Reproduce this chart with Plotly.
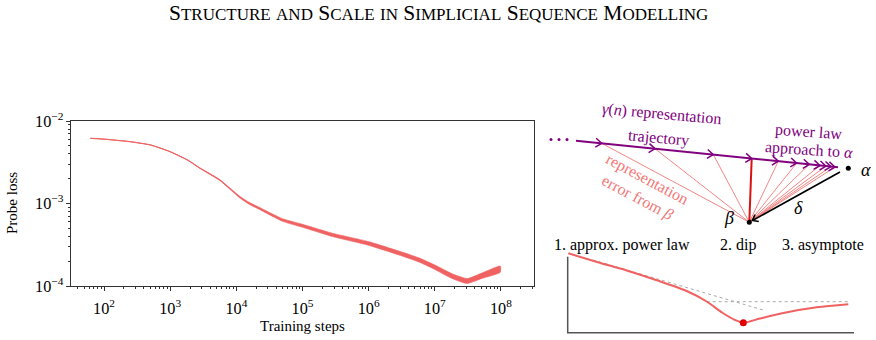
import numpy as np
import plotly.graph_objects as go

# ---------------- left panel data ----------------
STEPS = [62, 100, 160, 245, 500, 980, 1800, 2800, 5600, 8500, 11200, 15800, 22400,
         50000, 100000, 282000, 955000, 2880000, 5750000, 9550000, 18200000,
         30900000, 51300000, 97700000]
LOSS = [6.17e-3, 6.03e-3, 5.82e-3, 5.62e-3, 5.13e-3, 4.27e-3, 3.39e-3, 2.69e-3, 1.93e-3,
        1.45e-3, 1.20e-3, 1.00e-3, 8.7e-4, 6.3e-4, 5.37e-4, 4.17e-4, 3.31e-4, 2.51e-4,
        2.07e-4, 1.72e-4, 1.32e-4, 1.15e-4, 1.33e-4, 1.60e-4]
# half-width of the noisy band, in decades
NOISE_DEC = [0.002, 0.002, 0.002, 0.002, 0.002, 0.002, 0.003, 0.004, 0.006, 0.008, 0.010,
             0.012, 0.013, 0.016, 0.018, 0.020, 0.022, 0.024, 0.025, 0.027, 0.029, 0.030,
             0.033, 0.038]

TITLE = "STRUCTURE and SCALE in SIMPLICIAL SEQUENCE MODELLING"

# ---------------- schematic data (diagram coordinates) ----------------
DOTS_X = [551, 559, 567]
DOTS_Y = [139.5, 139.5, 139.5]
TRAJ_LINE_X = [576, 838]
TRAJ_LINE_Y = [140.7, 167.3]
TRAJ_X = [601.7, 655, 713.3, 751.7, 778.3, 796.7, 809.3, 820, 826, 831, 835]
TRAJ_Y = [143.3, 148.7, 154.6, 158.5, 161.2, 163.1, 164.4, 165.5, 166.1, 166.6, 167.0]
DIP_INDEX = 3
ALPHA_XY = [848.3, 168.3]
BETA_XY = [749.3, 222.3]
DELTA_FROM = [840, 172]
DELTA_TO = [752.5, 220.5]

CURVE_X = [568.3, 597, 626.7, 656, 686.7, 706.7, 722, 735, 743.3, 760, 783.3, 816.7, 848.3]
CURVE_Y = [253.3, 262, 270.5, 280, 291, 301.5, 312.5, 320, 322.7, 318.5, 313, 307.3, 304.3]
MIN_XY = [743.3, 322.7]
TANGENT_X = [593, 763]
TANGENT_Y = [260, 310]
ASYM_X = [706.7, 848.3]
ASYM_Y = [301.7, 301.7]
FRAME_X = [567.7, 567.7, 854]
FRAME_Y = [256.7, 332.7, 332.7]

W, H = 876, 340
FONT = "Liberation Serif"
RED = "#f06262"
PURPLE = "#800080"
SALMON = "#f27878"

fig = go.Figure()

# ---- left panel ----
steps = np.array(STEPS, float)
loss = np.array(LOSS)
nd = np.array(NOISE_DEC)
upper = loss * 10 ** nd
lower = loss / 10 ** nd
fig.add_trace(go.Scatter(
    x=np.concatenate([steps, steps[::-1]]), y=np.concatenate([upper, lower[::-1]]),
    mode="lines", fill="toself", fillcolor=RED, line=dict(color=RED, width=0.6, shape="spline", smoothing=0.5),
    xaxis="x", yaxis="y", hoverinfo="skip", showlegend=False))
fig.add_trace(go.Scatter(x=steps, y=loss, mode="lines",
                         line=dict(color=RED, width=1, shape="spline", smoothing=0.5),
                         xaxis="x", yaxis="y", showlegend=False))

# ---- schematic ----
def chevrons(xs, ys, dirs, back=6.0, half=4.5):
    px, py = [], []
    for x, y, d in zip(xs, ys, dirs):
        d = np.array(d, float)
        d /= np.linalg.norm(d)
        n = np.array([-d[1], d[0]])
        tip = np.array([x, y])
        a = tip - back * d + half * n
        b = tip - back * d - half * n
        px += [a[0], tip[0], b[0], None]
        py += [a[1], tip[1], b[1], None]
    return px, py

ax2 = dict(xaxis="x2", yaxis="y2", showlegend=False, hoverinfo="skip")

traj_dir = [TRAJ_LINE_X[1] - TRAJ_LINE_X[0], TRAJ_LINE_Y[1] - TRAJ_LINE_Y[0]]

for i, (tx, ty) in enumerate(zip(TRAJ_X, TRAJ_Y)):
    if i == DIP_INDEX:
        continue
    fig.add_trace(go.Scatter(x=[BETA_XY[0], tx], y=[BETA_XY[1], ty], mode="lines",
                             line=dict(color=SALMON, width=0.9), **ax2))
fig.add_trace(go.Scatter(x=[BETA_XY[0], TRAJ_X[DIP_INDEX]], y=[BETA_XY[1], TRAJ_Y[DIP_INDEX]],
                         mode="lines", line=dict(color="#dd1111", width=2), **ax2))

fig.add_trace(go.Scatter(x=TRAJ_LINE_X, y=TRAJ_LINE_Y, mode="lines",
                         line=dict(color=PURPLE, width=2), **ax2))
cx, cy = chevrons(TRAJ_X, TRAJ_Y, [traj_dir] * len(TRAJ_X))
fig.add_trace(go.Scatter(x=cx, y=cy, mode="lines", line=dict(color=PURPLE, width=1.5), **ax2))
fig.add_trace(go.Scatter(x=DOTS_X, y=DOTS_Y, mode="markers",
                         marker=dict(color=PURPLE, size=3), **ax2))

fig.add_trace(go.Scatter(x=[DELTA_FROM[0], DELTA_TO[0]], y=[DELTA_FROM[1], DELTA_TO[1]], mode="lines",
                         line=dict(color="black", width=1.6), **ax2))
dx, dy = chevrons([DELTA_TO[0]], [DELTA_TO[1]],
                  [[DELTA_TO[0] - DELTA_FROM[0], DELTA_TO[1] - DELTA_FROM[1]]], back=5, half=4)
fig.add_trace(go.Scatter(x=dx, y=dy, mode="lines", line=dict(color="black", width=1.6), **ax2))
fig.add_trace(go.Scatter(x=[ALPHA_XY[0], BETA_XY[0]], y=[ALPHA_XY[1], BETA_XY[1]], mode="markers",
                         marker=dict(color="black", size=5), **ax2))

fig.add_trace(go.Scatter(x=FRAME_X, y=FRAME_Y, mode="lines", line=dict(color="#555555", width=1.5), **ax2))
fig.add_trace(go.Scatter(x=TANGENT_X, y=TANGENT_Y, mode="lines",
                         line=dict(color="#aaaaaa", width=1, dash="dot"), **ax2))
fig.add_trace(go.Scatter(x=ASYM_X, y=ASYM_Y, mode="lines",
                         line=dict(color="#aaaaaa", width=1, dash="dot"), **ax2))
fig.add_trace(go.Scatter(x=CURVE_X, y=CURVE_Y, mode="lines",
                         line=dict(color=RED, width=2, shape="spline", smoothing=0.8), **ax2))
fig.add_trace(go.Scatter(x=[MIN_XY[0]], y=[MIN_XY[1]], mode="markers",
                         marker=dict(color="#e00000", size=7), **ax2))

# ---- annotations ----
def sc(text, small=17):
    out = []
    for w in text.split(" "):
        if w.isupper():
            out.append(w[0] + '<span style="font-size:%spx">%s</span>' % (small, w[1:]))
        else:
            out.append('<span style="font-size:%spx">%s</span>' % (small, w.upper()))
    return " ".join(out)

ann = []
ann.append(dict(text=sc(TITLE), x=0.5, y=1 - 13 / H,
                xref="paper", yref="paper", showarrow=False, font=dict(size=21.5, family=FONT, color="black"),
                xanchor="center", yanchor="middle"))
ann.append(dict(text="Probe loss", x=12 / W, y=1 - 203 / H, xref="paper", yref="paper", showarrow=False,
                textangle=-90, xanchor="center", yanchor="middle",
                font=dict(size=15, family=FONT, color="black")))
ann.append(dict(text="Training steps", x=302.5 / W, y=1 - 326 / H, xref="paper", yref="paper",
                showarrow=False, xanchor="center", yanchor="middle",
                font=dict(size=15, family=FONT, color="black")))

def t2(text, x, y, color="black", size=16, angle=0):
    ann.append(dict(text=text, x=x, y=y, xref="x2", yref="y2", showarrow=False, textangle=angle,
                    font=dict(size=size, family=FONT, color=color), xanchor="center", yanchor="middle"))

t2("<i>γ</i>(<i>n</i>) representation", 662, 114, PURPLE, 16, 5)
t2("trajectory", 658, 137.5, PURPLE, 16, 5)
t2("power law", 809, 131.5, PURPLE, 16, 4)
t2("approach to <i>α</i>", 809, 150, PURPLE, 16, 4)
t2("representation<br>error from <i>β</i>", 642, 188.5, SALMON, 16, 28)
t2("<i>α</i>", 866, 170, "black", 18)
t2("<i>β</i>", 729, 218, "black", 18)
t2("<i>δ</i>", 798, 208, "black", 18)
t2("1. approx. power law", 621.7, 245, "black", 16)
t2("2. dip", 737.5, 245, "black", 16)
t2("3. asymptote", 822.5, 245, "black", 16)

axis_common = dict(showline=True, mirror=True, linecolor="#333333", linewidth=1, ticks="outside",
                   ticklen=4, tickwidth=1, tickcolor="#333333", showgrid=False, zeroline=False,
                   dtick=1, exponentformat="power", automargin=False,
                   tickfont=dict(size=13, family=FONT, color="black"),
                   minor=dict(ticks="outside", ticklen=2, tickwidth=0.8, tickcolor="#333333",
                              dtick="D1", showgrid=False))

fig.update_layout(
    template="none",
    width=W, height=H, margin=dict(l=0, r=0, t=0, b=0, pad=0, autoexpand=False),
    paper_bgcolor="white", plot_bgcolor="white", showlegend=False,
    xaxis=dict(type="log", range=[1.5, 8.5], domain=[71 / W, 534 / W], anchor="y",
               ticklabelstandoff=4, **axis_common),
    yaxis=dict(type="log", range=[-4, -2], domain=[1 - 286 / H, 1 - 121 / H], anchor="x", **axis_common),
    xaxis2=dict(range=[540, 876], domain=[540 / W, 1], visible=False, anchor="y2", automargin=False),
    yaxis2=dict(range=[340, 90], domain=[0, 250 / H], visible=False, anchor="x2", automargin=False),
    annotations=ann,
)

fig.write_html("out.html")
